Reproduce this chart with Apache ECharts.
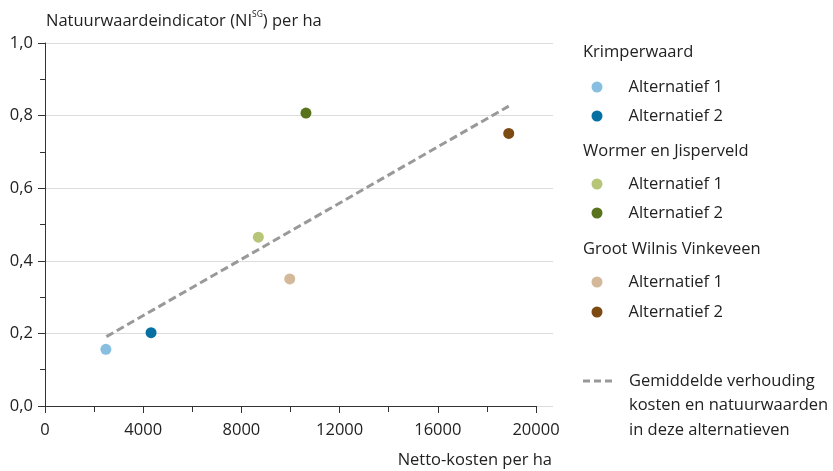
<!DOCTYPE html>
<html>
<head>
<meta charset="utf-8">
<script src="https://cdn.jsdelivr.net/npm/echarts@6/dist/echarts.min.js"></script>
<style>html,body{margin:0;padding:0;background:#fff}#c{width:833px;height:471px}</style>
</head>
<body>
<div id="c"></div>
<script>
// ---- data ----
const groups = ['Krimperwaard', 'Wormer en Jisperveld', 'Groot Wilnis Vinkeveen'];
const alternatives = ['Alternatief 1', 'Alternatief 2'];
const krimperwaard = [[2480, 0.156], [4320, 0.202]];
const wormerJisperveld = [[8690, 0.465], [10630, 0.807]];
const grootWilnisVinkeveen = [[9970, 0.350], [18890, 0.751]];
const trendLine = [[2500, 0.191], [18890, 0.826]];
const trendLabel = ['Gemiddelde verhouding', 'kosten en natuurwaarden', 'in deze alternatieven'];
const xTicks = [0, 4000, 8000, 12000, 16000, 20000];
const yTicks = [0, 0.2, 0.4, 0.6, 0.8, 1.0];
const colors = [['#88bfe0', '#0670a2'], ['#b6c578', '#58731b'], ['#d3b899', '#7c4a12']];

const groupData = [krimperwaard, wormerJisperveld, grootWilnisVinkeveen];
const FONT = 'Open Sans';
const FS = 16.5;
const TXT = '#222';
const FONTSTR = FS + 'px "' + FONT + '"';

const series = [];
groups.forEach((g, gi) => {
  alternatives.forEach((a, ai) => {
    series.push({
      type: 'scatter', name: g + '|' + a, xAxisIndex: 1, yAxisIndex: 1,
      data: [groupData[gi][ai]], symbol: 'circle', symbolSize: 11,
      itemStyle: { color: colors[gi][ai], opacity: 1 }, z: 5
    });
  });
});
series.push({
  type: 'line', name: 'trend', xAxisIndex: 1, yAxisIndex: 1, data: trendLine,
  symbol: 'none', lineStyle: { color: '#999', width: 3, type: [8, 4] }, z: 3, silent: true
});

const legends = groups.map((g, gi) => ({
  orient: 'vertical', left: 591.5, top: [78, 175, 273][gi], padding: 0,
  itemWidth: 11, itemHeight: 11, itemGap: [11, 11, 12][gi], icon: 'circle',
  data: alternatives.map(a => g + '|' + a),
  formatter: n => n.split('|')[1],
  textStyle: { fontFamily: FONT, fontSize: FS, color: TXT, lineHeight: 18, padding: [0, 0, 0, 21] },
  selectedMode: false
}));

const fmtY = v => v.toFixed(1).replace('.', ',');

const option = {
  animation: false,
  backgroundColor: '#fff',
  textStyle: { fontFamily: FONT },
  grid: [
    { left: 45, right: 280, top: 43, bottom: 65 },
    { left: 45, right: 297, top: 43, bottom: 65 }
  ],
  xAxis: [
    { gridIndex: 0, type: 'value', min: 0, max: 20700, show: false },
    { gridIndex: 1, type: 'value', min: xTicks[0], max: xTicks[xTicks.length - 1], interval: 4000,
      axisLine: { show: true, lineStyle: { color: '#333', width: 1 } },
      axisTick: { show: true, length: 7, lineStyle: { color: '#333' } },
      minorTick: { show: true, splitNumber: 2, length: 6, lineStyle: { color: '#333' } },
      splitLine: { show: false },
      axisLabel: { margin: 16, fontFamily: FONT, fontSize: FS, color: TXT, formatter: v => String(v) } }
  ],
  yAxis: [
    { gridIndex: 0, type: 'value', min: 0, max: 1, interval: 0.2,
      axisLine: { show: false }, axisTick: { show: false }, axisLabel: { show: false },
      splitLine: { show: true, lineStyle: { color: '#dcdcdc', width: 1 } } },
    { gridIndex: 1, type: 'value', min: yTicks[0], max: yTicks[yTicks.length - 1], interval: 0.2,
      axisLine: { show: true, lineStyle: { color: '#333', width: 1 } },
      axisTick: { show: true, length: 7, lineStyle: { color: '#333' } },
      minorTick: { show: true, splitNumber: 2, length: 5, lineStyle: { color: '#333' } },
      splitLine: { show: false },
      axisLabel: { margin: 12, fontFamily: FONT, fontSize: FS, color: TXT, formatter: fmtY } }
  ],
  legend: legends,
  graphic: [
    { type: 'text', left: 46, top: 10, style: {
      text: '{a|Natuurwaardeindicator (NI}{s|SG}{a|) per ha}',
      rich: { a: { fontFamily: FONT, fontSize: FS, fill: TXT, lineHeight: 22 },
              s: { fontFamily: FONT, fontSize: 8.5, fill: TXT, verticalAlign: 'top', lineHeight: 22, padding: [0, 0, 9, 0] } } } },
    { type: 'text', right: 281, top: 452, style: { text: 'Netto-kosten per ha', font: FONTSTR, fill: TXT } },
    ...groups.map((g, gi) => ({ type: 'text', left: 583, top: [55, 154, 252][gi] - 11,
      style: { text: g, font: FONTSTR, fill: TXT } })),
    { type: 'line', shape: { x1: 583, y1: 381, x2: 612, y2: 381 }, style: { stroke: '#999', lineWidth: 3, lineDash: [7, 4] } },
    { type: 'text', left: 629, top: 369, style: { text: trendLabel.join('\n'), font: FONTSTR, fill: TXT, lineHeight: 24.5 } }
  ],
  series: series
};
echarts.init(document.getElementById('c'), null, { renderer: 'canvas' }).setOption(option);
</script>
</body>
</html>
